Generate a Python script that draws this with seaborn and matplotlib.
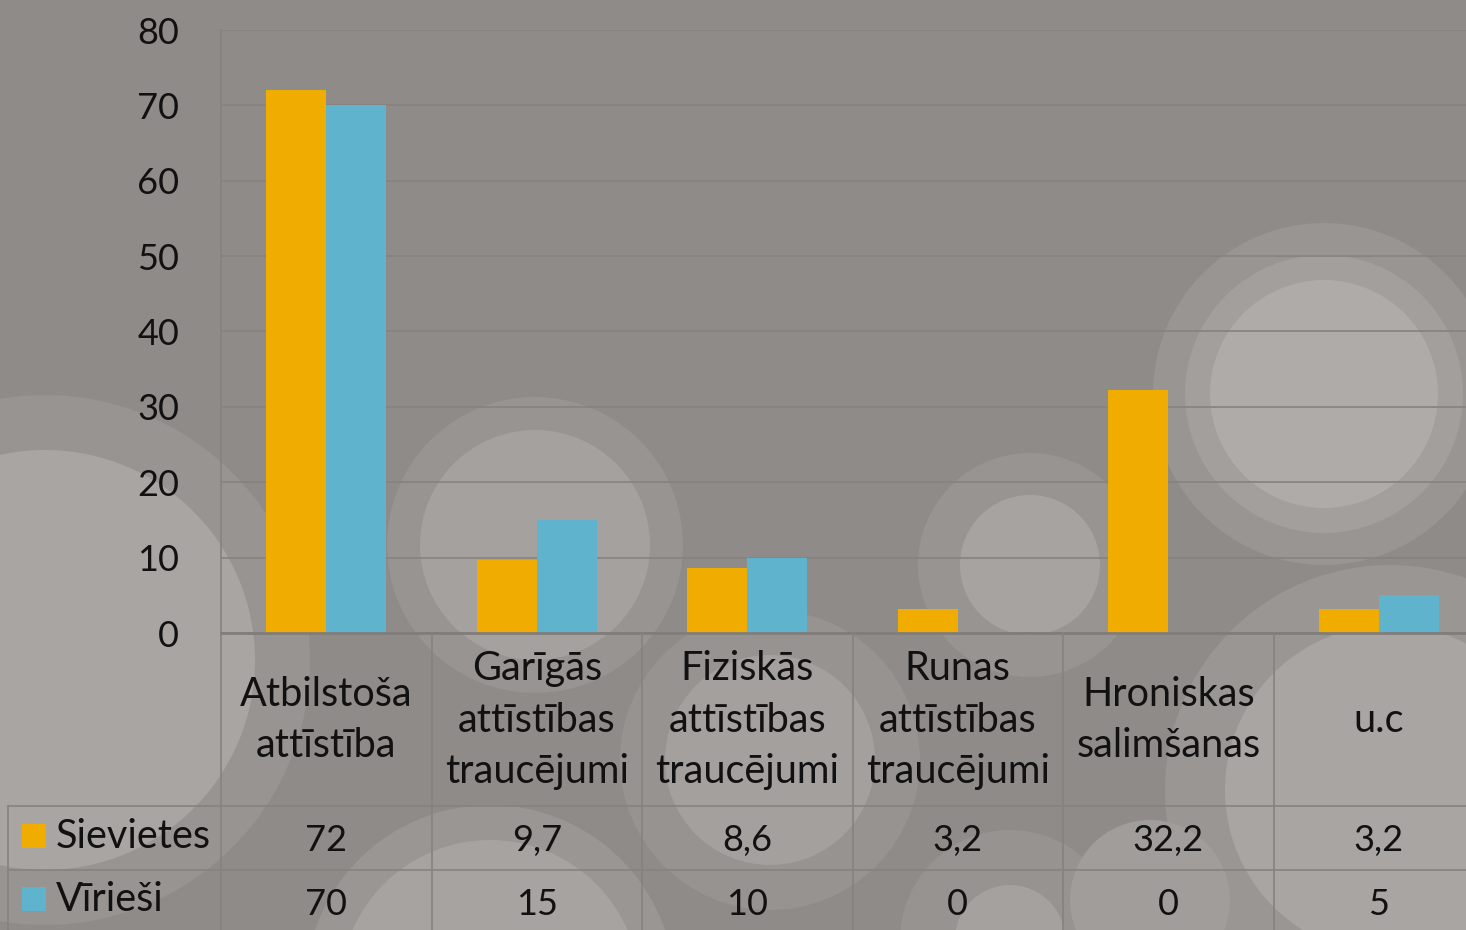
import matplotlib
matplotlib.use("Agg")
import matplotlib.pyplot as plt
from matplotlib.patches import Circle, Rectangle
from matplotlib.transforms import blended_transform_factory
import seaborn as sns
import pandas as pd

# ---- data ----
categories = ["Atbilstoša\nattīstība", "Garīgās\nattīstības\ntraucējumi",
              "Fiziskās\nattīstības\ntraucējumi", "Runas\nattīstības\ntraucējumi",
              "Hroniskas\nsalimšanas", "u.c"]
series_names = ["Sievietes", "Vīrieši"]
sievietes = [72, 9.7, 8.6, 3.2, 32.2, 3.2]
virie = [70, 15, 10, 0, 0, 5]
y_ticks = [0, 10, 20, 30, 40, 50, 60, 70, 80]

colors = ["#f0ad00", "#5fb3cc"]
BG = "#8f8b88"
LINE = "#858280"

sns.set_style("white")
plt.rcParams["font.family"] = ["Lato", "DejaVu Sans"]

df = pd.DataFrame({
    "cat": categories * 2,
    "series": [series_names[0]] * 6 + [series_names[1]] * 6,
    "val": sievietes + virie,
})

W, H = 1466, 930
fig = plt.figure(figsize=(W / 100, H / 100), dpi=100)
fig.patch.set_facecolor(BG)

# background decoration axes (pixel coordinates)
bg = fig.add_axes([0, 0, 1, 1], zorder=-5)
bg.set_xlim(0, W)
bg.set_ylim(H, 0)
bg.axis("off")
deco = [
    (1324, 394, 171, "#999592"), (1324, 394, 139, "#a39f9c"), (1324, 394, 114, "#afaba8"),
    (535, 545, 148, "#989491"), (535, 545, 115, "#a5a19e"),
    (1030, 565, 112, "#989491"), (1030, 565, 70, "#a7a3a0"),
    (45, 660, 265, "#989491"), (45, 660, 210, "#a9a5a2"),
    (1390, 790, 225, "#9a9693"), (1390, 790, 165, "#a9a5a2"),
    (770, 760, 150, "#979390"), (770, 760, 105, "#a4a09d"),
    (490, 990, 185, "#9a9693"), (490, 990, 150, "#a7a3a0"),
    (1010, 940, 110, "#979390"), (1010, 940, 55, "#a5a19e"),
    (1150, 900, 80, "#a19d9a"),
]
for cx, cy, r, c in deco:
    bg.add_patch(Circle((cx, cy), r, facecolor=c, edgecolor="none"))

# main axes (extends slightly past the right edge like the original)
left, right, top, bottom = 221, 1484, 30, 633
ax = fig.add_axes([left / W, 1 - bottom / H, (right - left) / W, (bottom - top) / H])
ax.set_facecolor("none")

sns.barplot(data=df, x="cat", y="val", hue="series", palette=colors, width=0.57,
            saturation=1, ax=ax, legend=False, linewidth=0)

ax.set_xlim(-0.5, len(categories) - 0.5)
ax.set_ylim(0, 80)
ax.set_yticks(y_ticks)
ax.set_yticklabels([str(t) for t in y_ticks], fontsize=26, color="#111111")
ax.tick_params(axis="y", length=0, pad=30)
ax.set_xticks([])
ax.set_xlabel("")
ax.set_ylabel("")
ax.yaxis.grid(True, color=LINE, linewidth=1.2)
ax.set_axisbelow(True)
for s in ["top", "right"]:
    ax.spines[s].set_visible(False)
ax.spines["left"].set_color(LINE)
ax.spines["left"].set_linewidth(1.2)
ax.spines["bottom"].set_color("#807d7b")
ax.spines["bottom"].set_linewidth(2)

# ---- data table below ----
tr = blended_transform_factory(ax.transData, fig.transFigure)

def fy(py):
    return 1 - py / H

lw = 1.2
for i in range(len(categories)):
    xb = i - 0.5
    fig.lines.append(plt.Line2D([xb, xb], [fy(633), fy(930)], transform=tr, color=LINE, lw=lw))
fig.lines.append(plt.Line2D([8 / W, 8 / W], [fy(806), fy(930)], transform=fig.transFigure,
                            color=LINE, lw=lw))
for py in [806, 870]:
    fig.lines.append(plt.Line2D([8 / W, 1], [fy(py), fy(py)], transform=fig.transFigure,
                                color=LINE, lw=lw))

txt_kw = dict(color="#111111", ha="center", va="center")
for i, c in enumerate(categories):
    fig.text(i, fy(720), c, transform=tr, fontsize=28.5, multialignment="center",
             linespacing=1.47, **txt_kw)

def fmt(v):
    return f"{v:g}".replace(".", ",")

for i, (a, b) in enumerate(zip(sievietes, virie)):
    fig.text(i, fy(840), fmt(a), transform=tr, fontsize=26, **txt_kw)
    fig.text(i, fy(904), fmt(b), transform=tr, fontsize=26, **txt_kw)

for (py, name, col) in [(836, series_names[0], colors[0]), (899, series_names[1], colors[1])]:
    fig.patches.append(Rectangle((22 / W, fy(py + 12)), 24 / W, 24 / H, transform=fig.transFigure,
                                 facecolor=col, edgecolor="none", zorder=3))
    fig.text(56 / W, fy(py), name, fontsize=28.5, color="#111111", ha="left", va="center")

fig.savefig("out.png", dpi=100, facecolor=fig.get_facecolor())
